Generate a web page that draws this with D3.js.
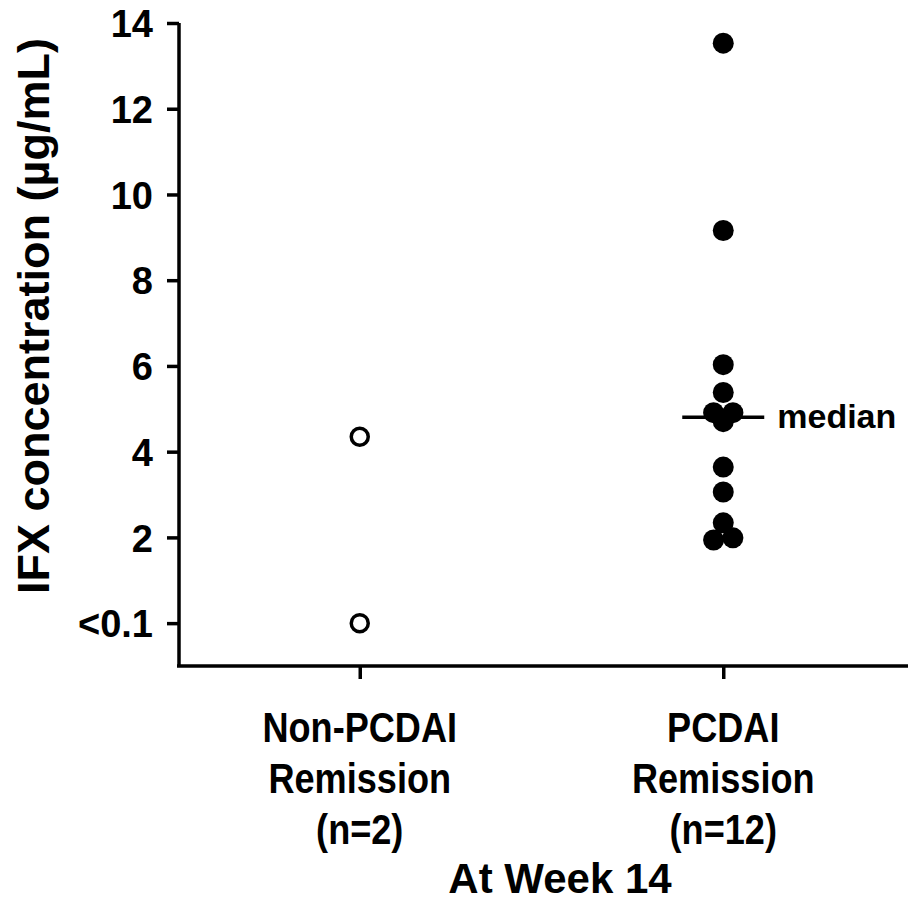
<!DOCTYPE html>
<html>
<head>
<meta charset="utf-8">
<script src="https://cdn.jsdelivr.net/npm/d3@7"></script>
<style>
  body { margin: 0; background: #fff; }
  text { font-family: "Liberation Sans", Arial, sans-serif; font-weight: bold; fill: #000; }
</style>
</head>
<body>
<svg id="chart" width="908" height="905"></svg>
<script>
// groups on the x axis
var groups = ["Non-PCDAI Remission", "PCDAI Remission"]
var groupLines = [["Non-PCDAI", "Remission", "(n=2)"], ["PCDAI", "Remission", "(n=12)"]]

// IFX values (ug/mL), 0 stands for "<0.1"
var nonRemission = [4.35, 0]
var remission = [13.53, 9.16, 6.03, 5.38, 4.91, 4.91, 4.70, 3.64, 3.06, 2.34, 1.94, 1.99]
// side-by-side slot for overlapping dots (-1 left, 0 centre, 1 right)
var remissionSlot = [0, 0, 0, 0, -1, 1, 0, 0, 0, 0, -1, 1]
var medianValue = 4.8

var yTicks = [0, 2, 4, 6, 8, 10, 12, 14]

var svg = d3.select("#chart")

var yScale = d3.scaleLinear().domain([-1, 14]).range([666, 23])
var xScale = d3.scalePoint().domain(groups).range([178, 905]).padding(0.5)

var yAxis = svg.append("g")
    .attr("transform", "translate(179,0)")
    .call(d3.axisLeft(yScale).tickValues(yTicks).tickSize(12).tickSizeOuter(0)
        .tickFormat(function (d) { return d == 0 ? "<0.1" : d }))
yAxis.select(".domain").attr("d", "M0,23V666").attr("stroke-width", 3.5)
yAxis.selectAll(".tick line").attr("stroke-width", 3.5)
yAxis.selectAll(".tick text")
    .attr("x", -26)
    .attr("dy", "0.36em")
    .style("font-size", "38px")

var xAxis = svg.append("g")
    .attr("transform", "translate(0,666)")
    .call(d3.axisBottom(xScale).tickSize(13).tickSizeOuter(0).tickFormat(""))
xAxis.select(".domain").attr("d", "M177,0H908").attr("stroke-width", 3.5)
xAxis.selectAll(".tick line").attr("stroke-width", 3.5)

// category labels, three lines each (glyphs a little narrow, as in the source)
groups.forEach(function (g, i) {
    groupLines[i].forEach(function (line, j) {
        svg.append("text")
            .attr("transform", "translate(" + xScale(g) + "," + (742 + j * 51) + ") scale(0.86,1)")
            .attr("text-anchor", "middle")
            .style("font-size", "42px")
            .text(line)
    })
})

svg.append("text")
    .attr("x", 560)
    .attr("y", 893)
    .attr("text-anchor", "middle")
    .style("font-size", "42px")
    .text("At Week 14")

svg.append("text")
    .attr("transform", "translate(49,316) rotate(-90)")
    .attr("text-anchor", "middle")
    .style("font-size", "45px")
    .text("IFX concentration (\u00b5g/mL)")

// open circles
svg.selectAll(".open")
    .data(nonRemission)
    .enter().append("circle")
    .attr("class", "open")
    .attr("cx", xScale(groups[0]))
    .attr("cy", function (d) { return yScale(d) })
    .attr("r", 8.5)
    .attr("fill", "#fff")
    .attr("stroke", "#000")
    .attr("stroke-width", 3.5)

// filled circles
var r = 10.5
svg.selectAll(".filled")
    .data(remission)
    .enter().append("circle")
    .attr("class", "filled")
    .attr("cx", function (d, i) { return xScale(groups[1]) + remissionSlot[i] * r * 0.92 })
    .attr("cy", function (d) { return yScale(d) })
    .attr("r", r)
    .attr("fill", "#000")

// median
svg.append("line")
    .attr("x1", xScale(groups[1]) - 41)
    .attr("x2", xScale(groups[1]) + 41)
    .attr("y1", yScale(medianValue))
    .attr("y2", yScale(medianValue))
    .attr("stroke", "#000")
    .attr("stroke-width", 3.5)

svg.append("text")
    .attr("x", xScale(groups[1]) + 54)
    .attr("y", yScale(medianValue) + 11)
    .style("font-size", "34px")
    .text("median")
</script>
</body>
</html>
